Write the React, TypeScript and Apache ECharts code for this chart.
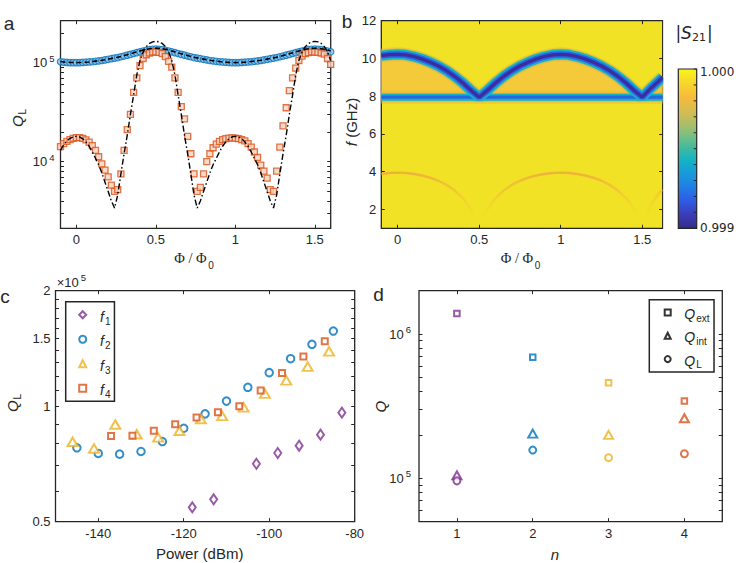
import { useEffect, useRef } from 'react';
import * as echarts from 'echarts';

const AXIS = '#262626';
const SANS = '"Liberation Sans", Arial, Helvetica, sans-serif';
const DEJAVU = '"DejaVu Sans", sans-serif';
const SERIF = '"Liberation Serif", "DejaVu Serif", serif';

// ---------------- Panel a : Q_L versus flux ----------------
const aPhi = [
  -0.1, -0.08, -0.06, -0.04, -0.02, 0, 0.02, 0.04, 0.06, 0.08,
  0.1, 0.12, 0.14, 0.16, 0.18, 0.2, 0.22, 0.24, 0.26, 0.28,
  0.3, 0.32, 0.34, 0.36, 0.38, 0.4, 0.42, 0.44, 0.46, 0.48,
  0.5, 0.52, 0.54, 0.56, 0.58, 0.6, 0.62, 0.64, 0.66, 0.68,
  0.7, 0.72, 0.74, 0.76, 0.78, 0.8, 0.82, 0.84, 0.86, 0.88,
  0.9, 0.92, 0.94, 0.96, 0.98, 1, 1.02, 1.04, 1.06, 1.08,
  1.1, 1.12, 1.14, 1.16, 1.18, 1.2, 1.22, 1.24, 1.26, 1.28,
  1.3, 1.32, 1.34, 1.36, 1.38, 1.4, 1.42, 1.44, 1.46, 1.48,
  1.5, 1.52, 1.54, 1.56, 1.58, 1.6,
];
const aBlueQ = [
  102000, 101000, 100500, 100000, 100000, 100000, 100000, 100500, 101000, 101500,
  102000, 103000, 104000, 105000, 106500, 108000, 109500, 111000, 112500, 114500,
  116500, 119000, 121000, 123500, 126000, 128500, 131000, 133000, 135000, 136500,
  137000, 136500, 135000, 133000, 131000, 128500, 126000, 123500, 121000, 119000,
  116500, 114500, 112500, 111000, 109500, 108000, 106500, 105000, 104000, 103000,
  102000, 101500, 101000, 100500, 100000, 100000, 100000, 100500, 101000, 101500,
  102000, 103000, 104000, 105000, 106500, 108000, 109500, 111000, 112500, 114500,
  116500, 119000, 121000, 123500, 126000, 128500, 131000, 133000, 135000, 136500,
  137000, 136500, 135000, 133000, 131000, 128500,
];
const aBlueTheoryQ = [
  102500, 101500, 101000, 100500, 100200, 100000, 100200, 100500, 101000, 101500,
  102500, 103500, 104500, 105700, 107000, 108500, 110000, 111700, 113500, 115500,
  117800, 120200, 122800, 125500, 128300, 131000, 133800, 136200, 138000, 139300,
  139800, 139300, 138000, 136200, 133800, 131000, 128300, 125500, 122800, 120200,
  117800, 115500, 113500, 111700, 110000, 108500, 107000, 105700, 104500, 103500,
  102500, 101500, 101000, 100500, 100200, 100000, 100200, 100500, 101000, 101500,
  102500, 103500, 104500, 105700, 107000, 108500, 110000, 111700, 113500, 115500,
  117800, 120200, 122800, 125500, 128300, 131000, 133800, 136200, 138000, 139300,
  139800, 139300, 138000, 136200, 133800, 131000,
];
const aOrangeQ = [
  14200, 15200, 16000, 16700, 17200, 17500, 17500, 17200, 16600, 15700,
  14500, 13000, 11200, 9500, 8200, 7000, 5800, 5000, 5200, 7500,
  13000, 21000, 30000, 50000, 70000, 93000, 110000, 120000, 125000, 128000,
  128000, 127000, 123000, 115000, 103000, 90000, 70000, 50000, 36000, 27000,
  18000, 12000, 7500, 5000, 5500, 7500, 10000, 12000, 13800, 15000,
  16000, 16700, 17100, 17300, 17400, 17300, 17100, 16700, 16200, 15200,
  14000, 12500, 11000, 9200, 8000, 6800, 5200, 5000, 8000, 14000,
  23000, 35000, 52000, 70000, 88000, 105000, 116000, 123000, 126000, 128000,
  128000, 127000, 125000, 122000, 110000, 96000,
];
const aOrangeTheoryQ = [
  13000, 14800, 16200, 17200, 17800, 18000, 17800, 17000, 15800, 14300,
  12500, 10800, 9300, 7700, 6200, 5000, 4000, 3400, 4600, 7500,
  12000, 18500, 30000, 47000, 75000, 105000, 128000, 145000, 156000, 162000,
  164000, 162000, 156000, 145000, 128000, 105000, 75000, 47000, 30000, 18500,
  12000, 7500, 4600, 3400, 4000, 5000, 6200, 7700, 9300, 10800,
  12500, 14300, 15800, 17000, 17800, 18000, 17800, 17000, 15800, 14300,
  12500, 10800, 9300, 7700, 6200, 5000, 4000, 3400, 4600, 7500,
  12000, 18500, 30000, 47000, 75000, 105000, 128000, 145000, 156000, 162000,
  164000, 162000, 156000, 145000, 128000, 105000,
];
const aXTicks = [0, 0.5, 1, 1.5];
const aYLabels = [10000, 100000];
const aYTicks = [3000, 4000, 5000, 6000, 7000, 8000, 9000, 10000, 20000, 30000, 40000, 50000, 60000, 70000, 80000, 90000, 100000, 200000];

// ---------------- Panel b : |S21| map (resonance branches) ----------------
const bPhi = [
  -0.1, -0.05, 0, 0.05, 0.1, 0.15, 0.2, 0.25, 0.3, 0.35, 0.4, 0.45,
  0.5, 0.55, 0.6, 0.65, 0.7, 0.75, 0.8, 0.85, 0.9, 0.95, 1,
  1.05, 1.1, 1.15, 1.2, 1.25, 1.3, 1.35, 1.4, 1.45, 1.5,
  1.55, 1.6, 1.625,
];
const bUpperModeGHz = [
  10.15, 10.2, 10.22, 10.19, 10.1, 9.97, 9.8, 9.6, 9.35, 9.05, 8.7, 8.3,
  7.95, 8.3, 8.7, 9.05, 9.35, 9.6, 9.8, 9.97, 10.1, 10.19, 10.22,
  10.19, 10.1, 9.97, 9.8, 9.6, 9.35, 9.05, 8.7, 8.3, 7.95,
  8.4, 8.8, 9.0,
];
const bFaintModeGHz = [
  3.88, 3.93, 3.95, 3.93, 3.88, 3.8, 3.68, 3.52, 3.3, 3.0, 2.6, 2.0,
  1.0, 2.0, 2.6, 3.0, 3.3, 3.52, 3.68, 3.8, 3.88, 3.93, 3.95,
  3.93, 3.88, 3.8, 3.68, 3.52, 3.3, 3.0, 2.6, 2.0, 1.0,
  2.2, 2.85, 3.05,
];
const bFlatModePhi = [-0.1, 1.625];
const bFlatModeGHz = [7.95, 7.95];
const bXTicks = [0, 0.5, 1, 1.5];
const bYTicks = [2, 4, 6, 8, 10, 12];
const bColorbarLabels = ['1.000', '0.999'];

// ---------------- Panel c : Q_L versus power ----------------
const cXTicks = [-140, -120, -100, -80];
const cYLabels = [50000, 100000, 150000, 200000];
const cYTicks = [50000, 60000, 70000, 80000, 90000, 100000, 110000, 120000, 130000, 140000, 150000, 160000, 170000, 180000, 190000, 200000];
const cPowerF1 = [-118, -113, -103, -98, -93, -88, -83];
const cQF1 = [54500, 57200, 70800, 75500, 78900, 84300, 96200];
const cPowerF2 = [-145, -140, -135, -130, -125, -120, -115, -110, -105, -100, -95, -90, -85];
const cQF2 = [77900, 75300, 75000, 76200, 80900, 87600, 95500, 103100, 112000, 122300, 133000, 145000, 157000];
const cPowerF3 = [-146, -141, -136, -131, -126, -121, -116, -111, -106, -101, -96, -91, -86];
const cQF3 = [80800, 77600, 89600, 84500, 82900, 86300, 92600, 94400, 99300, 107800, 116800, 126800, 139000];
const cPowerF4 = [-137, -132, -127, -122, -117, -112, -107, -102, -97, -92, -87];
const cQF4 = [83600, 83800, 86300, 89800, 93500, 96500, 100000, 109900, 122000, 134700, 147600];

// ---------------- Panel d : Q versus mode number ----------------
const dN = [1, 2, 3, 4];
const dQext = [1390000, 690000, 459000, 343000];
const dQint = [105000, 204000, 200000, 261000];
const dQL = [96000, 157000, 139000, 148000];
const dModeColors = ['#7E2F8E', '#0072BD', '#EDB120', '#D95319'];
const dXTicks = [1, 2, 3, 4];
const dYLabels = [100000, 1000000];
const dYTicks = [60000, 70000, 80000, 90000, 100000, 200000, 300000, 400000, 500000, 600000, 700000, 800000, 900000, 1000000, 2000000];

const zip = (xs: number[], ys: number[]) => xs.map((x, i) => [x, ys[i]]);

const powLabel = {
  formatter: (v: number) => `{b|10}{e|${Math.round(Math.log10(v))}}`,
  rich: {
    b: { fontSize: 13, fontFamily: SANS, color: AXIS },
    e: { fontSize: 9.5, fontFamily: SANS, color: AXIS, padding: [0, 0, 9, 2] },
  },
};

function axis(gridIndex: number, type: string, min: number, max: number, ticks: number[], position: string, label?: any) {
  return {
    type,
    logBase: 10,
    gridIndex,
    min,
    max,
    position,
    axisLine: { show: false, onZero: false },
    splitLine: { show: false },
    minorTick: { show: false },
    axisTick: { show: true, inside: true, length: 3.5, customValues: ticks, lineStyle: { color: AXIS, width: 1 } },
    axisLabel: label
      ? { show: true, margin: 5, fontSize: 13, fontFamily: SANS, color: AXIS, hideOverlap: false, ...label }
      : { show: false },
  };
}

function txt(x: number, y: number, text: string, o: any = {}) {
  return {
    type: 'text',
    x,
    y,
    rotation: o.rotation || 0,
    silent: true,
    z: 100,
    style: {
      text,
      fill: o.color || AXIS,
      fontSize: o.size || 13,
      fontFamily: o.family || SANS,
      fontStyle: o.italic ? 'italic' : 'normal',
      align: o.align || 'center',
      verticalAlign: 'middle',
      rich: o.rich,
    },
  };
}

function buildOption() {
  const grids = [
    { left: 60.5, top: 20.7, width: 270.2, height: 207.6 },
    { left: 381.3, top: 20.7, width: 281.4, height: 207.6, backgroundColor: '#F2E226' },
    { left: 55.5, top: 290.7, width: 299.2, height: 231 },
    { left: 419, top: 290.7, width: 303.3, height: 231 },
  ].map((g) => ({ show: true, borderColor: AXIS, borderWidth: 1.3, backgroundColor: '#fff', z: 0, ...g }));

  const xAxis = [
    axis(0, 'value', -0.1, 1.6, aXTicks, 'bottom', { customValues: aXTicks }),
    axis(0, 'value', -0.1, 1.6, aXTicks, 'top'),
    axis(1, 'value', -0.1, 1.625, bXTicks, 'bottom', { customValues: bXTicks }),
    axis(1, 'value', -0.1, 1.625, bXTicks, 'top'),
    axis(2, 'value', -150, -80, cXTicks, 'bottom', { customValues: cXTicks }),
    axis(2, 'value', -150, -80, cXTicks, 'top'),
    axis(3, 'value', 0.5, 4.5, dXTicks, 'bottom', { customValues: dXTicks }),
    axis(3, 'value', 0.5, 4.5, dXTicks, 'top'),
  ];
  const yAxis = [
    axis(0, 'log', 2120, 265000, aYTicks, 'left', { customValues: aYLabels, margin: 6, ...powLabel }),
    axis(0, 'log', 2120, 265000, aYTicks, 'right'),
    axis(1, 'value', 1, 12, bYTicks, 'left', { customValues: bYTicks }),
    axis(1, 'value', 1, 12, bYTicks, 'right'),
    axis(2, 'log', 50000, 200000, cYTicks, 'left', {
      customValues: cYLabels,
      formatter: (v: number) => String(Math.round(v / 10000) / 10),
    }),
    axis(2, 'log', 50000, 200000, cYTicks, 'right'),
    axis(3, 'log', 50000, 2000000, dYTicks, 'left', { customValues: dYLabels, margin: 8, ...powLabel }),
    axis(3, 'log', 50000, 2000000, dYTicks, 'right'),
  ];

  // ---- panel a series
  const aSeries = [
    {
      type: 'scatter', xAxisIndex: 0, yAxisIndex: 0, data: zip(aPhi, aBlueQ),
      symbol: 'circle', symbolSize: 6.5,
      itemStyle: { color: '#8DBFE6', borderColor: '#0072BD', borderWidth: 1.1 }, silent: true,
    },
    {
      type: 'scatter', xAxisIndex: 0, yAxisIndex: 0, data: zip(aPhi, aOrangeQ),
      symbol: 'rect', symbolSize: 6,
      itemStyle: { color: '#F7D2C0', borderColor: '#D95319', borderWidth: 1.3 }, silent: true,
    },
    {
      type: 'line', xAxisIndex: 0, yAxisIndex: 0, data: zip(aPhi, aBlueTheoryQ), symbol: 'none', silent: true,
      lineStyle: { color: '#000', width: 1.6, type: [5, 3] },
    },
    {
      type: 'line', xAxisIndex: 0, yAxisIndex: 0, data: zip(aPhi, aOrangeTheoryQ), symbol: 'none', silent: true,
      lineStyle: { color: '#000', width: 1.4, type: [6, 2.5, 1.5, 2.5] },
    },
  ];

  // ---- panel b series (layered resonance branches on the |S21|≈1 background)
  const bUpper = zip(bPhi, bUpperModeGHz);
  const bFlat = zip(bFlatModePhi, bFlatModeGHz);
  const bFaint = zip(bPhi, bFaintModeGHz);
  const bLine = (data: number[][], color: any, width: number, opacity = 1, extra: any = {}) => ({
    type: 'line', xAxisIndex: 2, yAxisIndex: 2, data, symbol: 'none', silent: true, clip: true,
    lineStyle: { color, width, opacity, cap: 'butt' },
    ...extra,
  });
  const faintGrad = new echarts.graphic.LinearGradient(0, 0, 0, 1, [
    { offset: 0, color: 'rgba(236,168,60,0.8)' },
    { offset: 0.35, color: 'rgba(238,178,60,0.5)' },
    { offset: 1, color: 'rgba(242,226,38,0)' },
  ]);
  const bSeries = [
    bLine(bUpper, 'rgba(0,0,0,0)', 0, 1, { areaStyle: { origin: 7.95, color: '#F4CA3B', opacity: 1 } }),
    bLine(bFaint, faintGrad, 2.5),
    bLine(bUpper, '#F1B43E', 14, 0.5),
    bLine(bFlat, '#F1B43E', 13, 0.55),
    bLine(bUpper, '#86C07A', 11.5, 0.65),
    bLine(bFlat, '#86C07A', 8.5, 0.7),
    bLine(bFlat, '#19B0C6', 7),
    bLine(bFlat, '#2766E2', 3.2),
    bLine(bUpper, '#19B0C6', 10),
    bLine(bUpper, '#2A62E4', 6.3),
    bLine(bUpper, '#3B2D9F', 3.2),
  ];

  // ---- panel c series
  const cSeries = [
    { name: 'f1', data: zip(cPowerF1, cQF1), symbol: 'emptyDiamond', symbolSize: [7, 10], color: '#7E2F8E' },
    { name: 'f2', data: zip(cPowerF2, cQF2), symbol: 'emptyCircle', symbolSize: 7.5, color: '#0072BD' },
    { name: 'f3', data: zip(cPowerF3, cQF3), symbol: 'emptyTriangle', symbolSize: [10, 8.5], color: '#EDB120' },
    { name: 'f4', data: zip(cPowerF4, cQF4), symbol: 'emptyRect', symbolSize: 6, color: '#D95319' },
  ].map((s) => ({
    type: 'scatter', xAxisIndex: 4, yAxisIndex: 4, name: s.name, data: s.data, symbol: s.symbol,
    symbolSize: s.symbolSize, itemStyle: { color: s.color, borderWidth: 1.6 }, silent: true,
  }));

  // ---- panel d series
  const dItems = (vals: number[]) => vals.map((v, i) => ({ value: [dN[i], v], itemStyle: { color: dModeColors[i] } }));
  const dSeries = [
    { name: 'Qext', data: dItems(dQext), symbol: 'emptyRect', symbolSize: 5.5 },
    { name: 'Qint', data: dItems(dQint), symbol: 'emptyTriangle', symbolSize: [9, 8] },
    { name: 'QL', data: dItems(dQL), symbol: 'emptyCircle', symbolSize: 7 },
  ].map((s) => ({
    type: 'scatter', xAxisIndex: 6, yAxisIndex: 6, name: s.name, data: s.data, symbol: s.symbol,
    symbolSize: s.symbolSize, itemStyle: { color: '#000', borderWidth: 1.6 }, silent: true,
  }));

  const legendBase = {
    orient: 'vertical', selectedMode: false, borderColor: AXIS, borderWidth: 1.5, backgroundColor: '#fff',
    itemGap: 2,
  };
  const legend = [
    {
      ...legendBase,
      data: ['f1', 'f2', 'f3', 'f4'],
      left: 65.7, top: 301.7, itemWidth: 7, itemHeight: 7,
      padding: [1.8, 4, 1.8, 12.5],
      formatter: (name: string) => `{f|f}{n|${name.slice(1)}}`,
      textStyle: {
        rich: {
          f: { fontStyle: 'italic', fontSize: 14, fontFamily: SANS, color: AXIS, lineHeight: 15.5, padding: [4, 0, 0, 8.8] },
          n: { fontSize: 10, fontFamily: SANS, color: AXIS, lineHeight: 7, padding: [12.5, 0, 0, 1] },
        },
      },
    },
    {
      ...legendBase,
      data: ['Qext', 'Qint', 'QL'],
      left: 649.3, top: 299.7, itemWidth: 6, itemHeight: 6, itemGap: 1.7,
      padding: [2, 4.5, 2, 14.4],
      formatter: (name: string) => `{q|Q}{s|${name.slice(1)}}`,
      textStyle: {
        rich: {
          q: { fontStyle: 'italic', fontSize: 14, fontFamily: SANS, color: AXIS, lineHeight: 16.8, padding: [3.2, 0, 0, 8.6] },
          s: { fontSize: 10, fontFamily: SANS, color: AXIS, lineHeight: 8.4, padding: [11.6, 0, 0, 1] },
        },
      },
    },
  ];

  // ---- colour bar for panel b
  const cb = { x: 678.3, y: 69, w: 18.4, h: 159.3 };
  const cbGrad = new echarts.graphic.LinearGradient(0, 0, 0, 1, [
    { offset: 0, color: '#F9F51A' },
    { offset: 0.08, color: '#F6D92A' },
    { offset: 0.17, color: '#F8BC3A' },
    { offset: 0.3, color: '#C8BC5A' },
    { offset: 0.4, color: '#86C07C' },
    { offset: 0.5, color: '#3DBA9E' },
    { offset: 0.58, color: '#12B1C9' },
    { offset: 0.7, color: '#1C8DE2' },
    { offset: 0.82, color: '#2D5FE6' },
    { offset: 0.92, color: '#3B3BB6' },
    { offset: 1, color: '#352A87' },
  ]);
  const cbTicks: any[] = [];
  for (let i = 0; i <= 10; i++) {
    const y = cb.y + (cb.h * i) / 10;
    cbTicks.push({
      type: 'line', silent: true, z: 101,
      shape: { x1: cb.x + cb.w - 3, y1: y, x2: cb.x + cb.w, y2: y },
      style: { stroke: AXIS, lineWidth: 1 },
    });
  }

  const phiRich = {
    p: { fontFamily: SERIF, fontSize: 14.5, fill: AXIS, lineHeight: 24 },
    s: { fontFamily: SANS, fontSize: 10, fill: AXIS, lineHeight: 10, padding: [14, 0, 0, 1.5] },
  };
  const qlRich = {
    q: { fontFamily: SANS, fontSize: 15, fontStyle: 'italic', fill: AXIS, lineHeight: 18 },
    l: { fontFamily: SANS, fontSize: 10, fill: AXIS, lineHeight: 8, padding: [10, 0, 0, 1] },
  };

  const graphic = [
    // white margin that trims the thick branch strokes at the right edge of panel b
    {
      type: 'rect', silent: true, z: 50,
      shape: { x: 663.4, y: 10, width: 13, height: 225 },
      style: { fill: '#fff' },
    },
    // panel letters
    txt(9, 23.5, 'a', { size: 19, align: 'center' }),
    txt(347, 21.5, 'b', { size: 19, align: 'center' }),
    txt(5, 296, 'c', { size: 19, align: 'center' }),
    txt(378.5, 294.5, 'd', { size: 19, align: 'center' }),
    // axis titles
    txt(194, 258, '{p|Φ / Φ}{s|0}', { rich: phiRich }),
    txt(520.5, 258, '{p|Φ / Φ}{s|0}', { rich: phiRich }),
    txt(17, 118, '{q|Q}{l|L}', { rich: qlRich, rotation: Math.PI / 2 }),
    txt(12, 403, '{q|Q}{l|L}', { rich: qlRich, rotation: Math.PI / 2 }),
    txt(351, 122, '{i|f}{n| (GHz)}', {
      rotation: Math.PI / 2,
      rich: {
        i: { fontFamily: SANS, fontSize: 15, fontStyle: 'italic', fill: AXIS },
        n: { fontFamily: SANS, fontSize: 15, fill: AXIS },
      },
    }),
    txt(199.7, 553, 'Power (dBm)', { size: 15 }),
    txt(380, 406.7, 'Q', { size: 15, italic: true, rotation: Math.PI / 2 }),
    txt(555, 554, 'n', { size: 15, italic: true }),
    // exponent of panel c
    txt(56.7, 282, '{a|×10}{e|5}', {
      align: 'left',
      rich: {
        a: { fontFamily: SANS, fontSize: 13, fill: AXIS },
        e: { fontFamily: SANS, fontSize: 9.5, fill: AXIS, padding: [0, 0, 9, 2] },
      },
    }),
    // colour bar
    {
      type: 'rect', silent: true, z: 100,
      shape: { x: cb.x, y: cb.y, width: cb.w, height: cb.h },
      style: { fill: cbGrad, stroke: AXIS, lineWidth: 1.2 },
    },
    ...cbTicks,
    txt(700, 71.7, bColorbarLabels[0], { family: DEJAVU, size: 12, align: 'left' }),
    txt(700, 227.7, bColorbarLabels[1], { family: DEJAVU, size: 12, align: 'left' }),
    txt(694, 33, '{n||}{s|S}{u|21}{n||}', {
      rich: {
        n: { fontFamily: DEJAVU, fontSize: 17, fill: AXIS, lineHeight: 20 },
        s: { fontFamily: DEJAVU, fontSize: 17, fontStyle: 'italic', fill: AXIS, lineHeight: 20 },
        u: { fontFamily: DEJAVU, fontSize: 11, fill: AXIS, lineHeight: 11, padding: [9, 1, 0, 0] },
      },
    }),
  ];

  return {
    animation: false,
    backgroundColor: '#fff',
    textStyle: { fontFamily: SANS },
    grid: grids,
    xAxis,
    yAxis,
    legend,
    series: [...aSeries, ...bSeries, ...cSeries, ...dSeries],
    graphic: { elements: graphic },
  };
}

export default function App() {
  const ref = useRef<HTMLDivElement>(null);
  useEffect(() => {
    const chart = echarts.init(ref.current as HTMLDivElement, null, { renderer: 'svg' });
    chart.setOption(buildOption() as any);
    return () => chart.dispose();
  }, []);
  return (
    <div
      ref={ref}
      style={{ position: 'fixed', left: 0, top: 0, width: 748, height: 563, background: '#fff' }}
    />
  );
}
